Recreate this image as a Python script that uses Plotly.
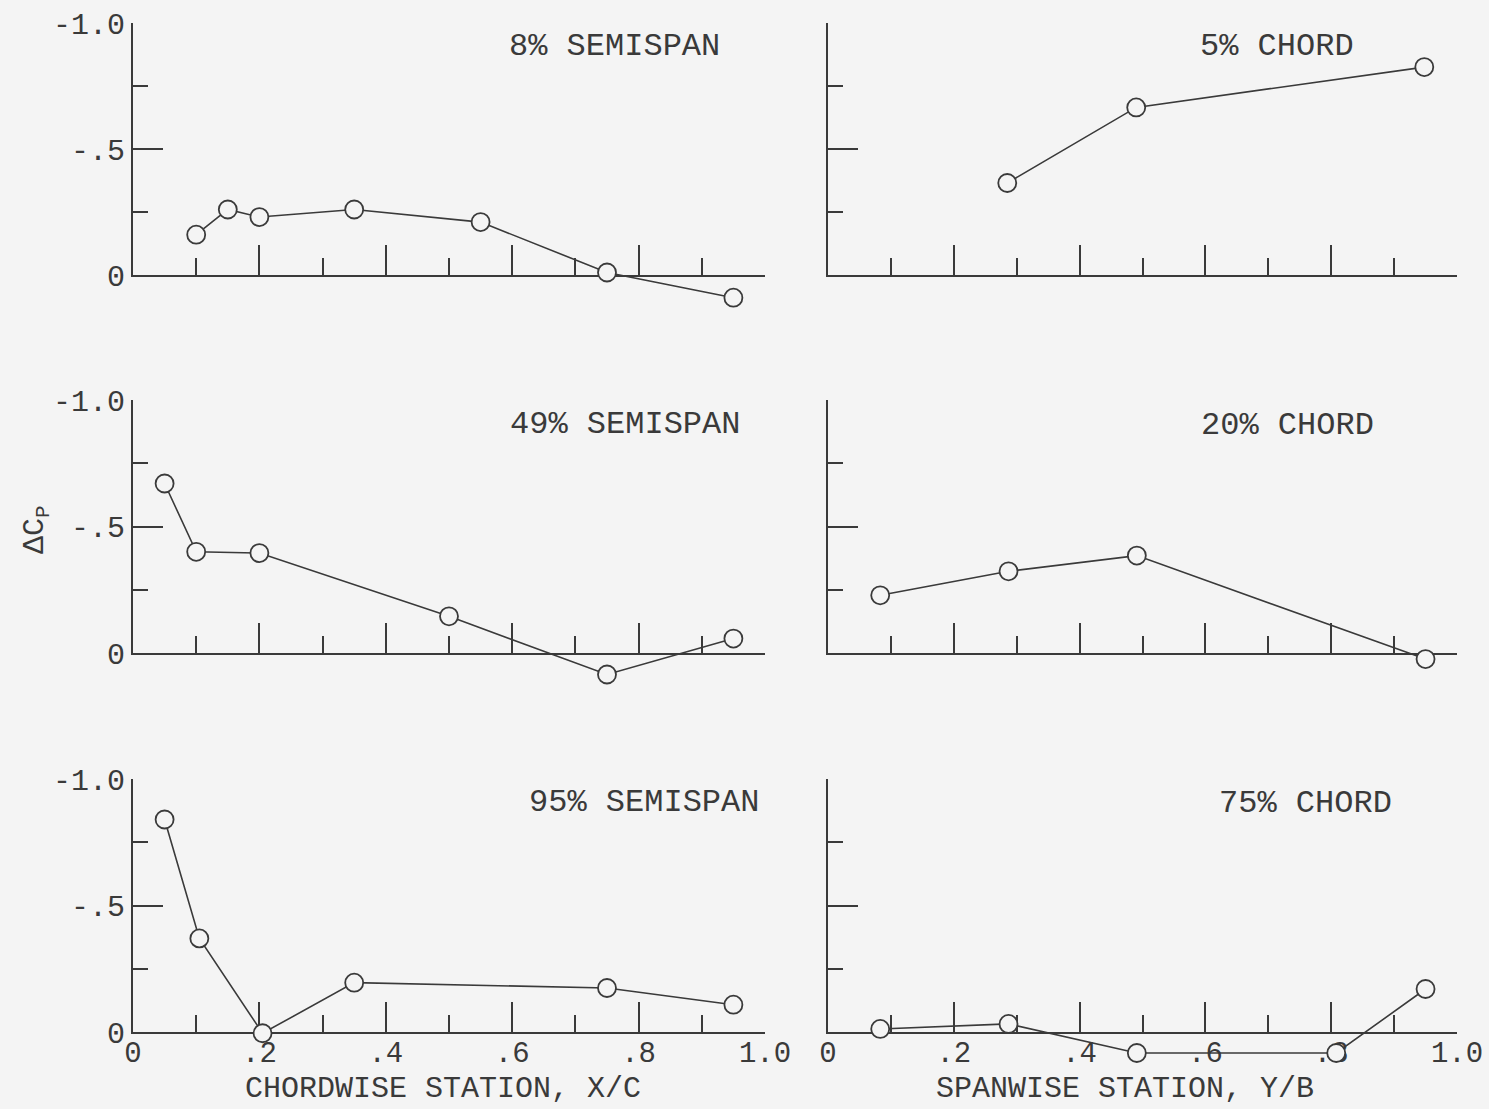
import plotly.graph_objects as go

W, H = 1489, 1109

# ---------------- data ----------------
semi8_x = [0.10, 0.15, 0.20, 0.35, 0.55, 0.75, 0.95]
semi8_dcp = [-0.16, -0.26, -0.23, -0.26, -0.21, -0.01, 0.09]

semi49_x = [0.05, 0.10, 0.20, 0.50, 0.75, 0.95]
semi49_dcp = [-0.67, -0.40, -0.395, -0.145, 0.085, -0.057]

semi95_x = [0.05, 0.105, 0.205, 0.35, 0.75, 0.95]
semi95_dcp = [-0.84, -0.37, 0.005, -0.195, -0.174, -0.108]

chord5_yb = [0.285, 0.49, 0.948]
chord5_dcp = [-0.365, -0.665, -0.825]

chord20_yb = [0.083, 0.287, 0.491, 0.95]
chord20_dcp = [-0.228, -0.323, -0.385, 0.024]

chord75_yb = [0.083, 0.287, 0.491, 0.808, 0.95]
chord75_dcp = [-0.012, -0.032, 0.083, 0.083, -0.17]

panel_titles = ["8% SEMISPAN", "5% CHORD", "49% SEMISPAN",
                "20% CHORD", "95% SEMISPAN", "75% CHORD"]

x_major_vals = [0, 0.2, 0.4, 0.6, 0.8, 1.0]
x_major_text = ["0", ".2", ".4", ".6", ".8", "1.0"]
x_minor_vals = [0.1, 0.3, 0.5, 0.7, 0.9]
y_major_vals = [-1.0, -0.5, 0]
y_major_text = ["-1.0", "-.5", "0"]
y_minor_vals = [-0.75, -0.25]

x_title_left = "CHORDWISE STATION, X/C"
x_title_right = "SPANWISE STATION, Y/B"
y_title = "\u0394C<sub>P</sub>"

# ---------------- styling / layout geometry ----------------
BG = "#f4f4f4"
INK = "#3a3a3a"
FONT = "Liberation Mono"

col_px = [(133, 765), (828, 1457)]             # x pixel of 0 and 1.0
row_px = [(23, 275), (400, 653), (779, 1032)]  # y pixel of -1.0 and 0
EXT = 0.16                                     # extra value range below zero

series = [
    (semi8_x, semi8_dcp), (chord5_yb, chord5_dcp),
    (semi49_x, semi49_dcp), (chord20_yb, chord20_dcp),
    (semi95_x, semi95_dcp), (chord75_yb, chord75_dcp),
]

fig = go.Figure()
layout = dict(
    template="none",
    width=W, height=H, autosize=False,
    margin=dict(l=0, r=0, t=0, b=0, pad=0, autoexpand=False),
    paper_bgcolor=BG, plot_bgcolor="rgba(0,0,0,0)",
    showlegend=False,
    font=dict(family=FONT, color=INK, size=30),
)

annotations = []

for k in range(6):
    r, c = divmod(k, 2)
    n = k + 1
    xl, xr = col_px[c]
    ytop, yzero = row_px[r]
    scale = (yzero - ytop)  # px per unit
    x_dom = [xl / W, xr / W]
    frame_dom = [1 - yzero / H, 1 - ytop / H]
    ext_dom = [1 - (yzero + EXT * scale) / H, 1 - ytop / H]

    fid = n          # frame y axis id
    eid = n + 6      # extended y axis id (for data)

    layout[f"xaxis{n}"] = dict(
        domain=x_dom, range=[0, 1], anchor=f"y{fid}", automargin=False,
        showline=True, linecolor=INK, linewidth=2,
        ticks="inside", ticklen=30, tickwidth=2, tickcolor=INK,
        tickvals=x_major_vals, ticktext=x_major_text,
        minor=dict(tickvals=x_minor_vals, ticks="inside", ticklen=17,
                   tickwidth=2, tickcolor=INK, showgrid=False),
        showticklabels=(r == 2), ticklabelstandoff=-7,
        tickfont=dict(family=FONT, size=29, color=INK),
        showgrid=False, zeroline=False, fixedrange=True,
    )
    layout[f"yaxis{fid}"] = dict(
        domain=frame_dom, range=[0, -1.0], anchor=f"x{n}", automargin=False,
        showline=True, linecolor=INK, linewidth=2,
        ticks="inside", ticklen=30, tickwidth=2, tickcolor=INK,
        tickvals=y_major_vals, ticktext=y_major_text,
        minor=dict(tickvals=y_minor_vals, ticks="inside", ticklen=15,
                   tickwidth=2, tickcolor=INK, showgrid=False),
        showticklabels=(c == 0),
        tickfont=dict(family=FONT, size=30, color=INK),
        showgrid=False, zeroline=False, fixedrange=True,
    )
    layout[f"yaxis{eid}"] = dict(
        domain=ext_dom, range=[EXT, -1.0], anchor=f"x{n}", automargin=False,
        visible=False, showgrid=False, zeroline=False, fixedrange=True,
    )

    # empty trace registers the framed subplot (x_n, y_frame) so its axes draw
    fig.add_trace(go.Scatter(x=[], y=[], xaxis=f"x{n}", yaxis=f"y{fid}",
                             mode="markers", hoverinfo="skip"))

    xs, ys = series[k]
    fig.add_trace(go.Scatter(
        x=xs, y=ys, xaxis=f"x{n}", yaxis=f"y{eid}",
        mode="lines+markers", cliponaxis=False,
        line=dict(color=INK, width=1.6),
        marker=dict(symbol="circle", size=18, color=BG,
                    line=dict(color=INK, width=1.8)),
        hoverinfo="skip",
    ))

# panel titles (right-aligned text at upper right of each panel)
title_pos = [(722, 46), (1356, 46), (742, 424), (1376, 425), (761, 802), (1394, 803)]
for t, (px, py) in zip(panel_titles, title_pos):
    annotations.append(dict(
        text=t, x=px / W, y=1 - py / H, xref="paper", yref="paper",
        xanchor="right", yanchor="middle", showarrow=False,
        font=dict(family=FONT, size=32, color=INK),
    ))

# axis titles
annotations.append(dict(text=x_title_left, x=443 / W, y=1 - 1108 / H,
                        xref="paper", yref="paper", xanchor="center", yanchor="bottom",
                        showarrow=False, font=dict(family=FONT, size=30, color=INK)))
annotations.append(dict(text=x_title_right, x=1125 / W, y=1 - 1108 / H,
                        xref="paper", yref="paper", xanchor="center", yanchor="bottom",
                        showarrow=False, font=dict(family=FONT, size=30, color=INK)))
annotations.append(dict(text=y_title, x=36 / W, y=1 - 530 / H,
                        xref="paper", yref="paper", xanchor="center", yanchor="middle",
                        textangle=-90, showarrow=False,
                        font=dict(family=FONT, size=30, color=INK)))

layout["annotations"] = annotations
fig.update_layout(**layout)

fig.write_html("out.html")
